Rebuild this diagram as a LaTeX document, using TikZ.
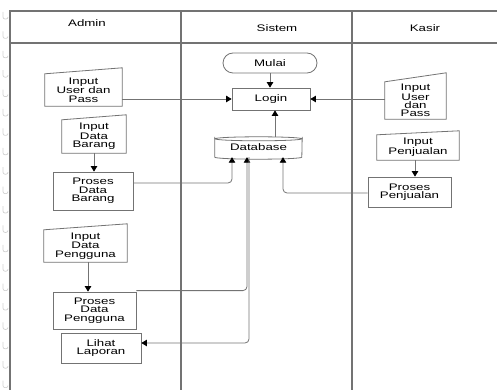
\documentclass[tikz,border=0pt]{standalone}
\usepackage{fontspec}
\setmainfont{Liberation Sans}[FakeStretch=1.4]
\usetikzlibrary{arrows.meta}
\begin{document}
\begin{tikzpicture}[x=1pt,y=-1pt,
  lane/.style={draw=black!55,line width=1.1pt},
  box/.style={draw=black!55,line width=0.8pt,align=center,inner sep=0pt,
    font=\fontsize{9.5}{8.3}\selectfont},
  ghost/.style={align=center,inner sep=0pt,font=\fontsize{9.5}{8.3}\selectfont},
  edge/.style={draw=black!55,line width=0.8pt},
  flow/.style={edge,-{Triangle[length=5.5pt,width=6.5pt,color=black]}},
  title/.style={font=\fontsize{9.5}{10}\selectfont}]
\useasboundingbox (0,0) rectangle (497,390);

% binding marks along the left edge
\foreach \i in {0,...,19}
  \draw[black!18,line width=0.7pt,rounded corners=2pt]
    (3,{12+19.4*\i}) -- (3,{19+19.4*\i}) -- (8,{19+19.4*\i}) -- (8,{17+19.4*\i});

% swimlane frame
\draw[lane] (10,390) -- (10,11) -- (497,11);
\draw[lane] (10,43) -- (497,43);
\draw[lane] (181,11) -- (181,390);
\draw[lane] (352,11) -- (352,390);
\node[title] (hAdmin) at (87,23.5) {Admin};
\node[title] (hSistem) at (277,28) {Sistem};
\node[title] (hKasir) at (425,28) {Kasir};

% Sistem lane
\node[box,rounded corners=10pt,minimum width=94,minimum height=20] (mulai) at (270,63) {Mulai};
\node[box,minimum width=78,minimum height=22] (login) at (271,99) {Login};
\node[ghost,minimum width=87,minimum height=20] (db) at (258.5,147) {Database};
\draw[edge] (db.north west) -- (db.south west)
  arc[start angle=180,end angle=360,x radius=43.5pt,y radius=2pt]
  -- (db.north east);
\draw[edge] ([yshift=-2pt]db.north) ellipse[x radius=43.5pt,y radius=2pt];

% Admin lane (manual inputs: top edge rises to the right)
\node[ghost,minimum width=77,minimum height=32] (inUA) at (83.5,90) {Input\\User dan\\Pass};
\draw[edge] (inUA.north west) -- ([yshift=6pt]inUA.north east) -- (inUA.south east) -- (inUA.south west) -- cycle;
\node[ghost,minimum width=64,minimum height=33] (inDB) at (94,136.5) {Input\\Data\\Barang};
\draw[edge] (inDB.north west) -- ([yshift=5pt]inDB.north east) -- (inDB.south east) -- (inDB.south west) -- cycle;
\node[box,minimum width=80,minimum height=38] (prDB) at (93,191) {Proses\\Data\\Barang};
\node[ghost,minimum width=83,minimum height=32] (inDP) at (85.5,246) {Input\\Data\\Pengguna};
\draw[edge] (inDP.north west) -- ([yshift=6pt]inDP.north east) -- (inDP.south east) -- (inDP.south west) -- cycle;
\node[box,minimum width=83,minimum height=37] (prDP) at (94.5,310.5) {Proses\\Data\\Pengguna};
\node[box,minimum width=80,minimum height=30] (lihat) at (101,348) {Lihat\\Laporan};

% Kasir lane
\node[ghost,minimum width=61,minimum height=37] (inUK) at (415.5,100.5) {Input\\User\\dan\\Pass};
\draw[edge] (inUK.north west) -- ([yshift=9pt]inUK.north east) -- (inUK.south east) -- (inUK.south west) -- cycle;
\node[ghost,minimum width=82,minimum height=25] (inPj) at (418,147.5) {Input\\Penjualan};
\draw[edge] (inPj.north west) -- ([yshift=4pt]inPj.north east) -- (inPj.south east) -- (inPj.south west) -- cycle;
\node[box,minimum width=83,minimum height=30] (prPj) at (409.5,192) {Proses\\Penjualan};

% connectors
\draw[flow] (mulai.south) -- (mulai.south |- login.north);
\draw[flow] (inUA.east |- login.west) -- (login.west);
\draw[flow] (inUK.west |- login.east) -- (login.east);
\draw[flow] ([xshift=4pt]login.south |- db.north) -- ([xshift=4pt]login.south);
\draw[flow] (inDB.south) -- (inDB.south |- prDB.north);
\draw[flow,rounded corners=4pt] ([yshift=8pt]prDB.east) -| ([xshift=-26.5pt]db.south);
\draw[flow] ([xshift=-3pt]inPj.south) -- ([xshift=-3pt]inPj.south |- prPj.north);
\draw[flow,rounded corners=4pt] ([yshift=-1pt]prPj.west) -| ([xshift=24.5pt]db.south);
\draw[flow] ([xshift=2.5pt]inDP.south) -- ([xshift=2.5pt]inDP.south |- prDP.north);
\draw[flow,rounded corners=4pt] ([yshift=1pt]prDP.north east) -| ([xshift=-11.5pt]db.south);
\draw[flow,rounded corners=4pt] ([xshift=-9.5pt]db.south) |- ([yshift=5pt]lihat.east);
\end{tikzpicture}
\end{document}
